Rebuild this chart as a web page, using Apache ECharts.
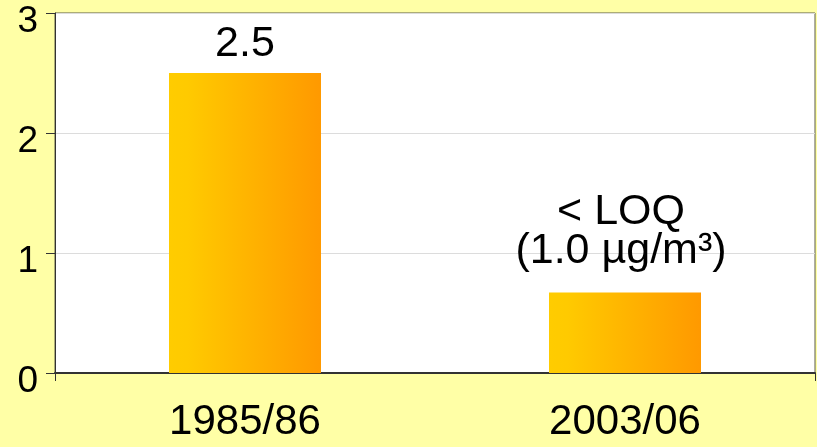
<!DOCTYPE html>
<html>
<head>
<meta charset="utf-8">
<script src="https://cdn.jsdelivr.net/npm/echarts@6/dist/echarts.min.js"></script>
<style>
html,body{margin:0;padding:0;background:#FFFFA6;}
#c{width:817px;height:447px;}
</style>
</head>
<body>
<div id="c"></div>
<script>
const categories = ['1985/86', '2003/06'];
const values = [2.5, 0.67];
const barLabels = ['2.5', '< LOQ\n(1.0 µg/m³)'];
const yTicks = [0, 1, 2, 3];

const chart = echarts.init(document.getElementById('c'));
const FONT = '"Liberation Sans", Arial, sans-serif';
const grad = new echarts.graphic.LinearGradient(0, 0, 1, 0, [
  { offset: 0, color: '#FFCC00' },
  { offset: 0.12, color: '#FFCA00' },
  { offset: 1, color: '#FF9900' }
]);

chart.setOption({
  backgroundColor: '#FFFFA6',
  animation: false,
  grid: {
    left: 55, right: 2, top: 13, bottom: 74,
    containLabel: false,
    outerBoundsMode: 'none',
    show: true, backgroundColor: '#ffffff',
    borderWidth: 1, borderColor: '#5a5a48'
  },
  xAxis: {
    type: 'category',
    data: categories,
    axisLine: { show: true, lineStyle: { color: '#333', width: 2 } },
    axisTick: { show: true, length: 8, lineStyle: { color: '#333' }, interval: function (i) { return i === 0; } },
    axisLabel: { fontSize: 42, color: '#000', fontFamily: FONT, margin: 28 },
    splitLine: { show: false }
  },
  yAxis: {
    type: 'value',
    min: yTicks[0], max: yTicks[yTicks.length - 1], interval: 1,
    axisLine: { show: true, lineStyle: { color: '#333', width: 1 } },
    axisTick: { show: true, length: 9, lineStyle: { color: '#333' } },
    axisLabel: { fontSize: 37, color: '#000', fontFamily: FONT, margin: 17, verticalAlign: 'top', lineHeight: 18 },
    splitLine: { show: true, lineStyle: { color: '#dcdcdc', width: 1 } }
  },
  series: [{
    type: 'bar',
    barWidth: '40%',
    data: values.map((v, i) => ({
      value: v,
      label: {
        show: true,
        position: 'top',
        formatter: barLabels[i],
        distance: i === 0 ? 9 : 22,
        offset: i === 0 ? [0, 0] : [-4, 0]
      }
    })),
    itemStyle: { color: grad },
    label: { fontSize: 43, color: '#000', fontFamily: FONT, lineHeight: 39 }
  }]
});
</script>
</body>
</html>
